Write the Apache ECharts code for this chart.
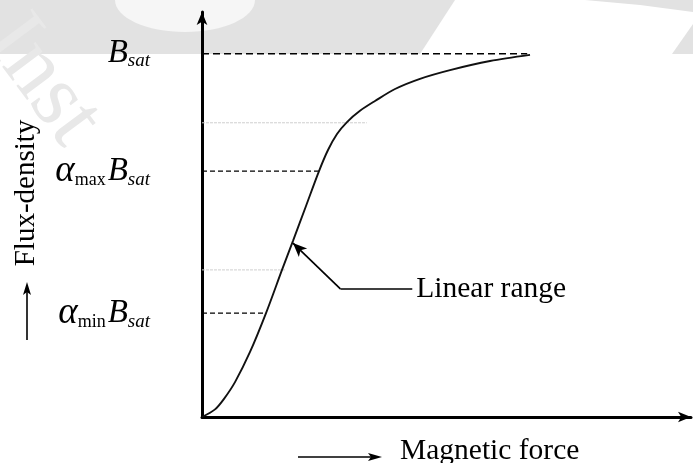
<!DOCTYPE html>
<html>
<head>
<meta charset="utf-8">
<script src="https://cdn.jsdelivr.net/npm/echarts@6/dist/echarts.min.js"></script>
<style>html,body{margin:0;padding:0;background:#fff}#c{width:693px;height:463px}</style>
</head>
<body>
<div id="c"></div>
<script>
// Magnetising force (arbitrary units) and flux density (fraction of Bsat)
const hValues = [0, 2.66, 4.50, 6.75, 9.82, 13.09, 16.36, 18.61, 21.27, 23.93, 25.77, 27.61, 29.65, 32.31, 35.38, 39.47, 44.58, 50.72, 58.90, 67.08];
const bValues = [0, 0.021, 0.050, 0.096, 0.179, 0.286, 0.405, 0.485, 0.581, 0.677, 0.735, 0.779, 0.812, 0.843, 0.870, 0.903, 0.931, 0.955, 0.980, 0.997];

// Reference levels on the flux axis
const levelKeys = ['amin', 'amax', 'bsat'];
const levelValues = [0.286, 0.677, 1.0];
const levelEnds = [13.09, 23.93, 66.5];

// Faint guide lines
const faintValues = [0.405, 0.81];
const faintEnds = [17.0, 33.7];

// Linear range annotation: arrow tip on the curve, elbow, label end
const annTip = [18.6, 0.479];
const annElbow = [28.3, 0.353];
const annEnd = [43.0, 0.353];
const annText = 'Linear range';

const xName = 'Magnetic force';
const yName = 'Flux-density';

const SERIF = '"Liberation Serif","DejaVu Serif",serif';

const chart = echarts.init(document.getElementById('c'), null, {renderer: 'canvas'});

const curve = hValues.map((h, i) => [h, bValues[i]]);

const levelSeries = levelKeys.map((k, i) => ({
  type: 'line',
  name: k,
  data: [[0, levelValues[i]], [levelEnds[i], levelValues[i]]],
  symbol: 'none',
  silent: true,
  z: 3,
  lineStyle: {
    color: '#000',
    width: k === 'bsat' ? 1.6 : 1.1,
    type: k === 'bsat' ? [7, 4] : [5, 3]
  }
}));

const faintSeries = faintValues.map((v, i) => ({
  type: 'line',
  data: [[0, v], [faintEnds[i], v]],
  symbol: 'none',
  silent: true,
  z: 1,
  lineStyle: {color: '#cfcfcf', width: 1, type: [3, 1]}
}));

const labelFor = function (v) {
  if (Math.abs(v - levelValues[2]) < 1e-6) return '{B|B}{s|sat}';
  if (Math.abs(v - levelValues[1]) < 1e-6) return '{a|α}{m|max}{B|B}{s|sat}';
  if (Math.abs(v - levelValues[0]) < 1e-6) return '{a|α}{m|min}{B|B}{s|sat}';
  return '';
};

const wmColor = '#e2e2e2';

const option = {
  backgroundColor: '#fff',
  animation: false,
  grid: {left: 202, right: 2, top: 12, bottom: 46},
  xAxis: {
    type: 'value', min: 0, max: 100,
    axisLine: {show: true, lineStyle: {color: '#000', width: 3}, symbol: ['none', 'arrow'], symbolSize: [8, 13]},
    axisTick: {show: false}, axisLabel: {show: false}, splitLine: {show: false}
  },
  yAxis: {
    type: 'value', min: 0, max: 1.115,
    axisLine: {show: true, onZero: false, lineStyle: {color: '#000', width: 3}, symbol: ['none', 'arrow'], symbolSize: [8, 13]},
    axisTick: {show: false}, splitLine: {show: false},
    axisLabel: {
      show: true,
      customValues: levelValues,
      margin: 52,
      formatter: labelFor,
      rich: {
        a: {fontFamily: SERIF, fontStyle: 'italic', fontSize: 37, color: '#000'},
        m: {fontFamily: SERIF, fontSize: 18, color: '#000', verticalAlign: 'bottom', padding: [0, 2, 0, 0]},
        B: {fontFamily: SERIF, fontStyle: 'italic', fontSize: 33, color: '#000'},
        s: {fontFamily: SERIF, fontStyle: 'italic', fontSize: 19, color: '#000', verticalAlign: 'bottom'}
      }
    }
  },
  graphic: [
    // watermark
    {type: 'polygon', z: -10, silent: true, shape: {points: [[0, 0], [455, 0], [420, 54], [0, 54]]}, style: {fill: wmColor}},
    {type: 'ellipse', z: -9, silent: true, shape: {cx: 185, cy: 0, rx: 70, ry: 32}, style: {fill: '#f6f6f6'}},
    {type: 'polygon', z: -10, silent: true, shape: {points: [[585, 0], [693, 0], [693, 12], [640, 5]]}, style: {fill: wmColor}},
    {type: 'polygon', z: -10, silent: true, shape: {points: [[672, 54], [693, 24], [693, 54]]}, style: {fill: wmColor}},
    {type: 'text', z: -8, silent: true, x: 38, y: 0, rotation: -0.93,
      style: {text: 'Inst', fontFamily: SERIF, fontSize: 90, fill: '#e8e8e8', align: 'left', verticalAlign: 'top'}},
    // y-axis name with arrow
    {type: 'text', x: 26, y: 193, rotation: Math.PI / 2,
      style: {text: yName, fontFamily: SERIF, fontSize: 29, fill: '#000', align: 'center', verticalAlign: 'middle'}},
    {type: 'line', shape: {x1: 27, y1: 340, x2: 27, y2: 292}, style: {stroke: '#000', lineWidth: 1.6}},
    {type: 'polygon', shape: {points: [[27, 282], [23, 295], [27, 292], [31, 295]]}, style: {fill: '#000'}},
    // x-axis name with arrow
    {type: 'line', shape: {x1: 298, y1: 457, x2: 372, y2: 457}, style: {stroke: '#000', lineWidth: 1.6}},
    {type: 'polygon', shape: {points: [[382, 457], [368, 453], [371, 457], [368, 461]]}, style: {fill: '#000'}},
    {type: 'text', x: 400, y: 451,
      style: {text: xName, fontFamily: SERIF, fontSize: 29.5, fill: '#000', align: 'left', verticalAlign: 'middle'}}
  ],
  series: [
    ...faintSeries,
    ...levelSeries,
    {
      type: 'line',
      data: curve,
      smooth: 0.3,
      symbol: 'none',
      z: 4,
      lineStyle: {color: '#111', width: 1.9},
      markLine: {
        silent: true,
        animation: false,
        precision: 4,
        lineStyle: {color: '#000', width: 1.7, type: 'solid'},
        symbolSize: [9, 14],
        label: {show: false},
        data: [
          [{coord: annElbow, symbol: 'none'}, {coord: annTip, symbol: 'arrow'}],
          [{coord: annElbow, symbol: 'none'},
           {coord: annEnd, symbol: 'none',
            label: {show: true, position: 'end', distance: 4, formatter: annText,
              fontFamily: SERIF, fontSize: 29.5, color: '#000'}}]
        ]
      }
    }
  ]
};

chart.setOption(option);
</script>
</body>
</html>
